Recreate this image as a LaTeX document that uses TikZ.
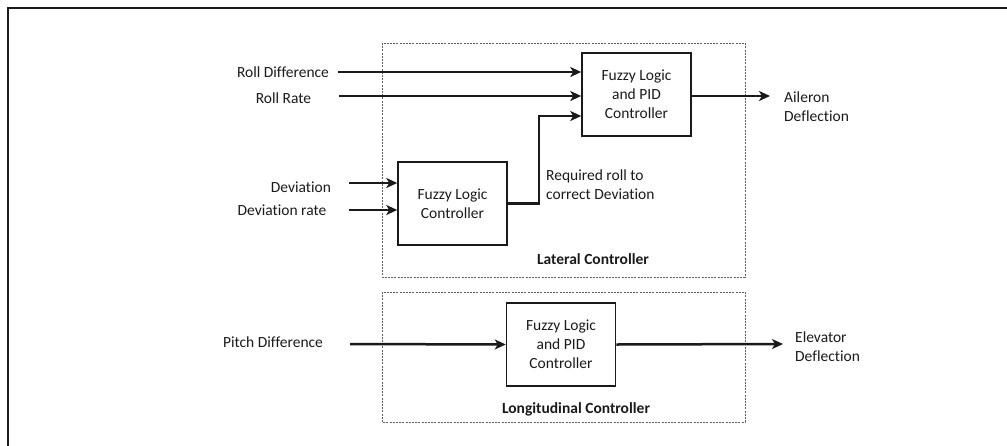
\documentclass[tikz,border=0pt]{standalone}
\usepackage{fontspec}
\setmainfont[Ligatures={NoCommon,NoDiscretionary}]{Carlito}
\usetikzlibrary{arrows.meta,calc}
\definecolor{ink}{HTML}{1A1A1A}
\begin{document}
\begin{tikzpicture}[x=1pt,y=-1pt,
  every node/.style={font=\fontsize{15.5}{19}\selectfont, text=ink},
  block/.style={draw=ink, line width=1.5pt, minimum width=109pt, minimum height=83pt, align=center, inner sep=0pt},
  label/.style={align=center, inner sep=0pt},
  sig/.style={draw=ink, line width=2.5pt, -{Stealth[length=11pt,width=10pt,inset=3pt]}},
  group/.style={draw=ink!70, line width=0.8pt, dash pattern=on 2pt off 1.2pt},
]
\useasboundingbox (0,0) rectangle (1007,445);
\clip (0,0) rectangle (1007,445);
% outer frame
\draw[ink, line width=1.8pt] (8,8) rectangle (1015,455);

% controller groups
\draw[group] (382,43) rectangle (745,277);
\draw[group] (382,292) rectangle (745,422);
\node[font=\bfseries\fontsize{15.5}{19}\selectfont, inner sep=0pt] (latlbl) at (593,259) {Lateral Controller};
\node[font=\bfseries\fontsize{15.5}{19}\selectfont, inner sep=0pt] (lonlbl) at (576,409) {Longitudinal Controller};

% blocks
\node[block] (fpid) at (636.5,94.5) {Fuzzy Logic\\and PID\\Controller};
\node[block] (flc) at (452.5,203.5) {Fuzzy Logic\\Controller};
\node[block] (lpid) at (561,344.5) {Fuzzy Logic\\and PID\\Controller};

% input labels
\node[label] (rd) at (283,72) {Roll Difference};
\node[label] (rr) at (283.5,98) {Roll Rate};
\node[label] (dv) at (301,187) {Deviation};
\node[label] (dr) at (282,210) {Deviation rate};
\node[label] (pd) at (273,342) {Pitch Difference};

% output labels
\node[label, anchor=west, align=left] (ail) at (784,107) {Aileron\\Deflection};
\node[label, anchor=west, align=left] (elev) at (795,346.5) {Elevator\\Deflection};
\node[label, anchor=west, align=left] (req) at (546,185) {Required roll to\\correct Deviation};

% line start points
\coordinate (rds) at (338,72);
\coordinate (rrs) at (339,96);
\coordinate (dvs) at (349,183);
\coordinate (drs) at (349,210);
\coordinate (pds) at (350,344);
\coordinate (ailend) at (770,96);
\coordinate (elevend) at (783,344);
\coordinate (bend) at (539,116);

% signals
\draw[sig] (rds) -- (rds -| fpid.west);
\draw[sig] (rrs) -- (rrs -| fpid.west);
\draw[sig] (dvs) -- (dvs -| flc.west);
\draw[sig] (drs) -- (drs -| flc.west);
\draw[sig] (flc.east) -- (flc.east -| bend) -- (bend) -- (bend -| fpid.west);
\draw[sig] (fpid.east |- ailend) -- (ailend);
\draw[sig] (pds) -- (lpid.west);
\draw[sig] (lpid.east) -- (elevend);
\end{tikzpicture}
\end{document}
